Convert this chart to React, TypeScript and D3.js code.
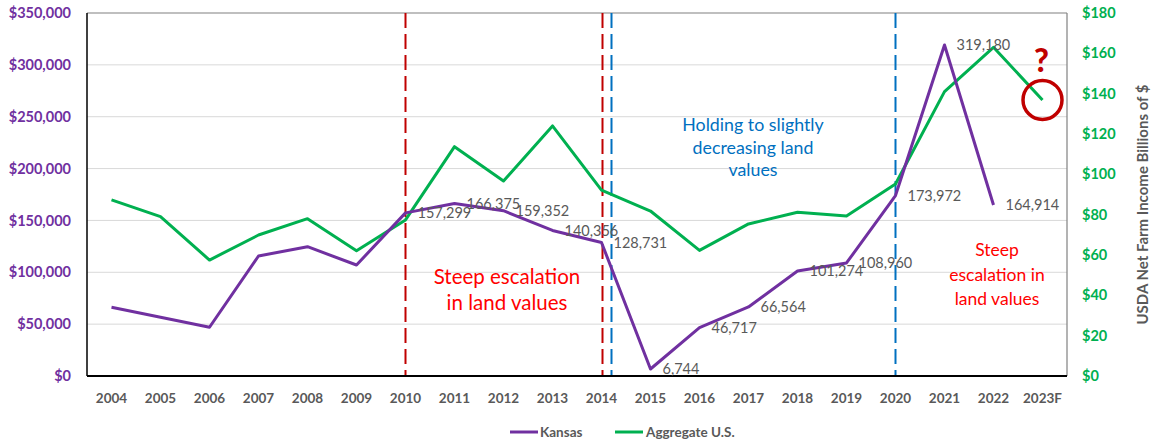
import React from "react";
import * as d3 from "d3";

const years = ["2004","2005","2006","2007","2008","2009","2010","2011","2012","2013","2014","2015","2016","2017","2018","2019","2020","2021","2022","2023F"];
const kansas: (number | null)[] = [66200, 56600, 47000, 115700, 124700, 107000, 157299, 166375, 159352, 140356, 128731, 6744, 46717, 66564, 101274, 108960, 173972, 319180, 164914, null];
const kansasLabeled = [false, false, false, false, false, false, true, true, true, true, true, true, true, true, true, true, true, true, true, false];
const aggregate = [87.3, 79.0, 57.5, 69.9, 78.0, 62.1, 77.4, 113.7, 96.7, 124.0, 92.2, 81.8, 62.3, 75.4, 81.2, 79.3, 95.2, 141.0, 163.0, 136.9];
const leftTicks = [0, 50000, 100000, 150000, 200000, 250000, 300000, 350000];
const rightTicks = [0, 20, 40, 60, 80, 100, 120, 140, 160, 180];

const W = 1153, H = 442;
const L = 87, R = 1067, T = 13, B = 376;
const FONT = "Lato, 'Open Sans', sans-serif";
const PURPLE = "#7030A0";
const GREEN = "#00B050";
const GRAY = "#595959";

export default function App() {
  const x = d3.scalePoint<string>().domain(years).range([L, R]).padding(0.5);
  const yL = d3.scaleLinear().domain([0, 350000]).range([B, T]);
  const yR = d3.scaleLinear().domain([0, 180]).range([B, T]);
  const fmtMoney = d3.format("$,");
  const fmtNum = d3.format(",");

  const kLine = d3.line<number | null>()
    .defined((d) => d !== null)
    .x((_, i) => x(years[i])!)
    .y((d) => yL(d as number));
  const aLine = d3.line<number>()
    .x((_, i) => x(years[i])!)
    .y((d) => yR(d));

  const x2014 = x("2014")!;
  const x2010 = x("2010")!;
  const x2020 = x("2020")!;

  const redText1 = ["Steep escalation", "in land values"];
  const blueText = ["Holding to slightly", "decreasing land", "values"];
  const redText2 = ["Steep", "escalation in", "land values"];

  return (
    <svg width={W} height={H} style={{ display: "block", position: "absolute", left: 0, top: 0 }} fontFamily={FONT}>
      <rect x={0} y={0} width={W} height={H} fill="#fff" />
      {leftTicks.slice(1, -1).map((t) => (
        <line key={t} x1={L} x2={R} y1={yL(t)} y2={yL(t)} stroke="#D9D9D9" strokeWidth={1} />
      ))}
      {/* frame */}
      <line x1={L} x2={R} y1={T} y2={T} stroke="#808080" strokeWidth={1.2} />
      <line x1={R} x2={R} y1={T} y2={B} stroke="#808080" strokeWidth={1.2} />
      <line x1={L} x2={L} y1={T} y2={B} stroke="#000" strokeWidth={1.5} />

      {/* vertical dashed markers */}
      <line x1={x2010} x2={x2010} y1={T} y2={B} stroke="#C00000" strokeWidth={2} strokeDasharray="15,6" />
      <line x1={x2014 + 1} x2={x2014 + 1} y1={T} y2={B} stroke="#C00000" strokeWidth={2} strokeDasharray="15,6" />
      <line x1={x2014 + 10} x2={x2014 + 10} y1={T} y2={B} stroke="#0070C0" strokeWidth={2} strokeDasharray="15,6" />
      <line x1={x2020} x2={x2020} y1={T} y2={B} stroke="#0070C0" strokeWidth={2} strokeDasharray="15,6" />

      <line x1={L} x2={R} y1={B} y2={B} stroke="#000" strokeWidth={2} />

      {/* lines */}
      <path d={aLine(aggregate) || ""} fill="none" stroke={GREEN} strokeWidth={3} strokeLinejoin="round" />
      <path d={kLine(kansas) || ""} fill="none" stroke={PURPLE} strokeWidth={3} strokeLinejoin="round" />

      {/* data labels */}
      {kansas.map((v, i) =>
        v !== null && kansasLabeled[i] ? (
          <text key={i} x={x(years[i])! + 12} y={yL(v)} dy="0.35em" fontSize={14.5} fill={GRAY}>
            {fmtNum(v)}
          </text>
        ) : null
      )}

      {/* left axis */}
      {leftTicks.map((t) => (
        <text key={t} x={71} y={yL(t)} dy="0.35em" textAnchor="end" fontSize={14.5} fontWeight="bold" fill={PURPLE}>
          {fmtMoney(t)}
        </text>
      ))}
      {/* right axis */}
      {rightTicks.map((t) => (
        <text key={t} x={1082} y={yR(t)} dy="0.35em" textAnchor="start" fontSize={14.5} fontWeight="bold" fill={GREEN}>
          {fmtMoney(t)}
        </text>
      ))}
      <text transform={`translate(1143,${(T + B) / 2 + 10}) rotate(-90)`} textAnchor="middle" dy="0.35em" fontSize={15} fontWeight="bold" fill={GRAY}>
        USDA Net Farm Income Billions of $
      </text>

      {/* x axis labels */}
      {years.map((yv) => (
        <text key={yv} x={x(yv)!} y={398} dy="0.35em" textAnchor="middle" fontSize={13.5} fontWeight="bold" fill={GRAY}>
          {yv}
        </text>
      ))}

      {/* annotations */}
      {redText1.map((s, i) => (
        <text key={s} x={507} y={277 + i * 26} dy="0.35em" textAnchor="middle" fontSize={20.5} fill="#FF0000">{s}</text>
      ))}
      {blueText.map((s, i) => (
        <text key={s} x={753} y={125 + i * 22.5} dy="0.35em" textAnchor="middle" fontSize={17.8} fill="#0070C0">{s}</text>
      ))}
      {redText2.map((s, i) => (
        <text key={s} x={997} y={250 + i * 24.5} dy="0.35em" textAnchor="middle" fontSize={17.5} fill="#FF0000">{s}</text>
      ))}

      {/* question circle */}
      <circle cx={x("2023F")!} cy={yR(aggregate[19])} r={19.5} fill="none" stroke="#C00000" strokeWidth={3.5} />
      <text x={x("2023F")! - 1} y={61} dy="0.35em" textAnchor="middle" fontSize={32} fontWeight="900" fill="#C00000">?</text>

      {/* legend */}
      <line x1={510} x2={538} y1={432} y2={432} stroke={PURPLE} strokeWidth={3} />
      <text x={540} y={432} dy="0.35em" fontSize={13.5} fontWeight="bold" fill={GRAY}>Kansas</text>
      <line x1={615} x2={643} y1={432} y2={432} stroke={GREEN} strokeWidth={3} />
      <text x={646} y={432} dy="0.35em" fontSize={13.5} fontWeight="bold" fill={GRAY}>Aggregate U.S.</text>
    </svg>
  );
}
